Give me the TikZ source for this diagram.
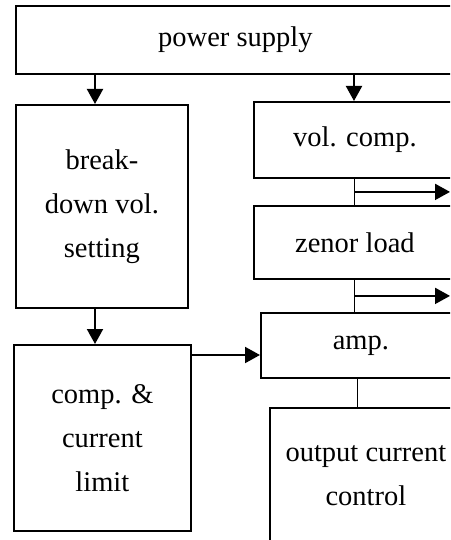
\documentclass[tikz,border=0pt]{standalone}
\usepackage{fontspec}
\setmainfont{Liberation Serif}
\usetikzlibrary{arrows.meta,calc}
\begin{document}
\begin{tikzpicture}[x=1pt,y=-1pt,
  blk/.style={draw,line width=1.8pt,anchor=north west,inner sep=0pt,align=center,
    font=\fontsize{28.5}{44}\selectfont},
  arr/.style={line width=2pt,-{Triangle[length=15pt,width=16pt]}},
  thin/.style={line width=1pt}]
\useasboundingbox (0,0) rectangle (450,540);
\clip (0,0) rectangle (450,540);
\node[blk,minimum width=439pt,minimum height=68pt] (ps) at (15,5) {power supply};
\node[blk,minimum width=172pt,minimum height=203pt] (bd) at (15,104) {break-\\down vol.\\setting};
\node[blk,minimum width=177pt,minimum height=186pt] (cl) at (13,344) {comp. \&\\current\\limit};
\node[blk,minimum width=202pt,minimum height=76pt] (vc) at (253,101) {vol. comp.};
\node[blk,minimum width=202pt,minimum height=73pt] (zl) at (253,205) {zenor load};
\node[blk,minimum width=200pt,minimum height=65pt] (amp) at (260,312) {amp.};
\node[blk,minimum width=192pt,minimum height=135pt] (oc) at (269,407) {output current\\control};
\coordinate (xl) at (95,0);
\coordinate (xr) at (354,0);
\coordinate (xa) at (357,0);
\coordinate (e1) at (450,0);
\draw[arr] (ps.south -| xl) -- (bd.north -| xl);
\draw[arr] (ps.south -| xr) -- (vc.north -| xr);
\draw[arr] (bd.south -| xl) -- (cl.north -| xl);
\draw[thin] (vc.south -| xr) -- (zl.north -| xr);
\draw[thin] (zl.south -| xr) -- (amp.north -| xr);
\draw[thin] (amp.south -| xa) -- (oc.north -| xa);
\coordinate (m1) at ($(vc.south -| xr)!0.5!(zl.north -| xr)$);
\coordinate (m2) at ($(zl.south -| xr)!0.5!(amp.north -| xr)$);
\draw[arr] (m1) -- (m1 -| e1);
\draw[arr] (m2) -- (m2 -| e1);
\coordinate (ya) at (0,355);
\draw[arr] (cl.east |- ya) -- (amp.west |- ya);
\end{tikzpicture}
\end{document}
